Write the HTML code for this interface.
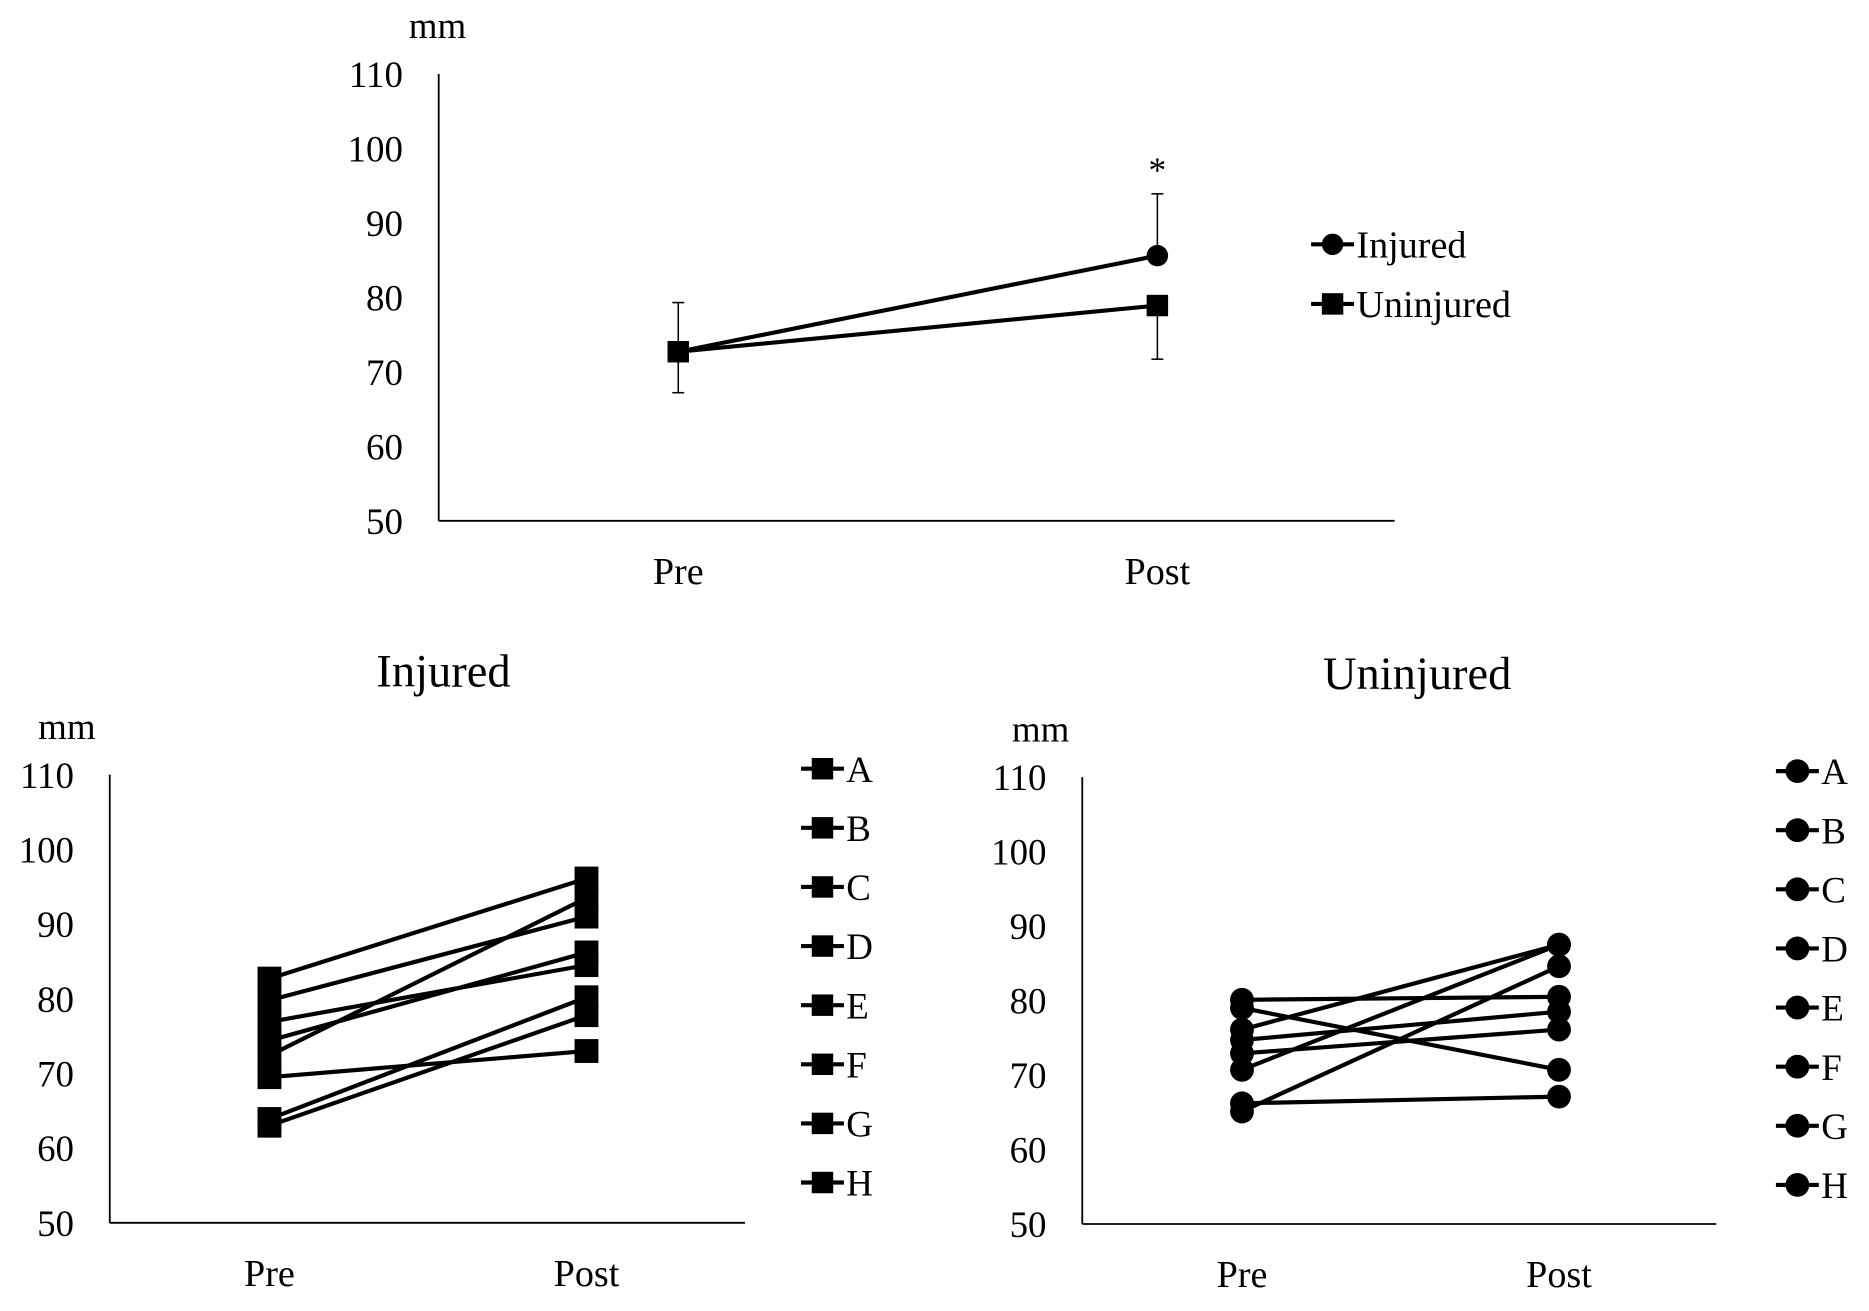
<!DOCTYPE html>
<html><head><meta charset="utf-8"><style>
html,body{margin:0;padding:0;background:#fff}
svg{display:block}
text{font-family:"Liberation Serif",serif;fill:#000}
</style></head><body>
<svg id="fig" width="1869" height="1311" viewBox="0 0 1568 1100" xmlns="http://www.w3.org/2000/svg">
<g id="top"></g>
<g id="inj"></g>
<g id="uninj"></g>
</svg>
<script>
const categories = ["Pre", "Post"];
const yTicks = [50, 60, 70, 80, 90, 100, 110];
const meanInjured = [72.7, 85.6];
const meanUninjured = [72.7, 78.9];
const errInjuredUpper = [79.3, 93.9];
const errUninjuredLower = [67.2, 71.7];
const subjects = ["A","B","C","D","E","F","G","H"];
const injuredPre = [82.7, 79.8, 76.9, 74.4, 72.4, 69.5, 63.9, 63.0];
const injuredPost = [96.1, 91.0, 84.5, 86.2, 93.5, 73.0, 80.2, 77.8];
const uninjuredPre = [80.1, 79.0, 76.1, 74.7, 72.9, 70.7, 66.2, 65.1];
const uninjuredPost = [80.5, 70.7, 87.5, 78.5, 76.1, 87.5, 67.1, 84.6];

const NS = "http://www.w3.org/2000/svg";
function mk(parent, tag, attrs, txt){
  const e = document.createElementNS(NS, tag);
  for (const k in attrs) e.setAttribute(k, attrs[k]);
  if (txt !== undefined) e.textContent = txt;
  parent.appendChild(e);
  return e;
}
function axes(g, ax){
  const yS = v => ax.y0 - (v - 50) * (ax.y0 - ax.y1) / 60;
  const xS = i => ax.xs[i];
  const yl = mk(g, "line", {x1:ax.x0, y1:ax.y1, x2:ax.x0, y2:ax.y0, stroke:"#000", "stroke-width":1.5});
  
  
  const xl = mk(g, "line", {x1:ax.x0, y1:ax.y0, x2:ax.xEnd, y2:ax.y0, stroke:"#000", "stroke-width":1.5});
  
  
  yTicks.forEach(t => {
    const tx = mk(g, "text", {x:ax.x0 - 30, y:yS(t) + 11, "text-anchor":"end", "font-size":31}, t);
    
    
  });
  categories.forEach((c, i) => {
    const tx = mk(g, "text", {x:xS(i), y:ax.y0 + 53, "text-anchor":"middle", "font-size":32}, c);
    
    
  });
  const u = mk(g, "text", {x:ax.x0 + ax.mmDx, y:ax.y1 - 30, "text-anchor":"middle", "font-size":31}, "mm");
  
  
  return {yS, xS};
}
function marker(g, shape, x, y, s){
  let m;
  if (shape === "sq") m = mk(g, "rect", {x:x - s, y:y - s, width:2*s, height:2*s, fill:"#000"});
  else m = mk(g, "circle", {cx:x, cy:y, r:s, fill:"#000"});
  
  
}

// Top chart
(function(){
  const g = document.getElementById("top");
  const {yS, xS} = axes(g, {x0:368, xEnd:1170, y0:437, y1:62, xs:[569, 971], mmDx:-1});
  [[errInjuredUpper, meanInjured],[errUninjuredLower, meanUninjured]].forEach(([e, m]) => {
    categories.forEach((c, i) => {
      const l = mk(g, "line", {x1:xS(i), x2:xS(i), y1:yS(m[i]), y2:yS(e[i]), stroke:"#000", "stroke-width":1.3});
      
      
      const cap = mk(g, "line", {x1:xS(i)-5, x2:xS(i)+5, y1:yS(e[i]), y2:yS(e[i]), stroke:"#000", "stroke-width":1.3});
      
      
    });
  });
  [[meanInjured, "ci"], [meanUninjured, "sq"]].forEach(([d, sh]) => {
    const p = mk(g, "polyline", {points:d.map((v,i)=>xS(i)+","+yS(v)).join(" "), fill:"none", stroke:"#000", "stroke-width":3.5});
    
    
    d.forEach((v,i) => marker(g, sh, xS(i), yS(v), 9));
  });
  const st = mk(g, "text", {x:xS(1), y:yS(errInjuredUpper[1]) - 10, "text-anchor":"middle", "font-size":30}, "*");
  
  
  [["Injured","ci",205],["Uninjured","sq",255]].forEach(([n, sh, y]) => {
    const lg = mk(g, "g", {});
    
    
    mk(lg, "line", {x1:1100, x2:1136, y1:y, y2:y, stroke:"#000", "stroke-width":3.5});
    marker(lg, sh, 1118, y, 9);
    mk(lg, "text", {x:1138, y:y + 11, "font-size":32}, n);
  });
})();

function indiv(id, ax, pre, post, shape, title, titleX, lgX, lgY0){
  const g = document.getElementById(id);
  const {yS, xS} = axes(g, ax);
  const t = mk(g, "text", {x:titleX, y:ax.y1 - 74, "text-anchor":"middle", "font-size":39}, title);
  
  
  subjects.forEach((s, k) => {
    const l = mk(g, "line", {x1:xS(0), y1:yS(pre[k]), x2:xS(1), y2:yS(post[k]), stroke:"#000", "stroke-width":3.5});
    
    
    marker(g, shape, xS(0), yS(pre[k]), 10);
    marker(g, shape, xS(1), yS(post[k]), 10);
    const y = lgY0 + k * 49.6;
    const lg = mk(g, "g", {});
    
    
    mk(lg, "line", {x1:lgX - 18, x2:lgX + 18, y1:y, y2:y, stroke:"#000", "stroke-width":3.5});
    marker(lg, shape, lgX, y, shape === "sq" ? 9 : 10);
    mk(lg, "text", {x:lgX + 20, y:y + 11, "font-size":31}, s);
  });
}
indiv("inj", {x0:92, xEnd:625, y0:1026, y1:650, xs:[226, 492], mmDx:-36}, injuredPre, injuredPost, "sq", "Injured", 372, 690, 645);
indiv("uninj", {x0:908, xEnd:1440, y0:1027, y1:652, xs:[1042, 1308], mmDx:-35}, uninjuredPre, uninjuredPost, "ci", "Uninjured", 1189, 1508, 647);
</script>
</body></html>
